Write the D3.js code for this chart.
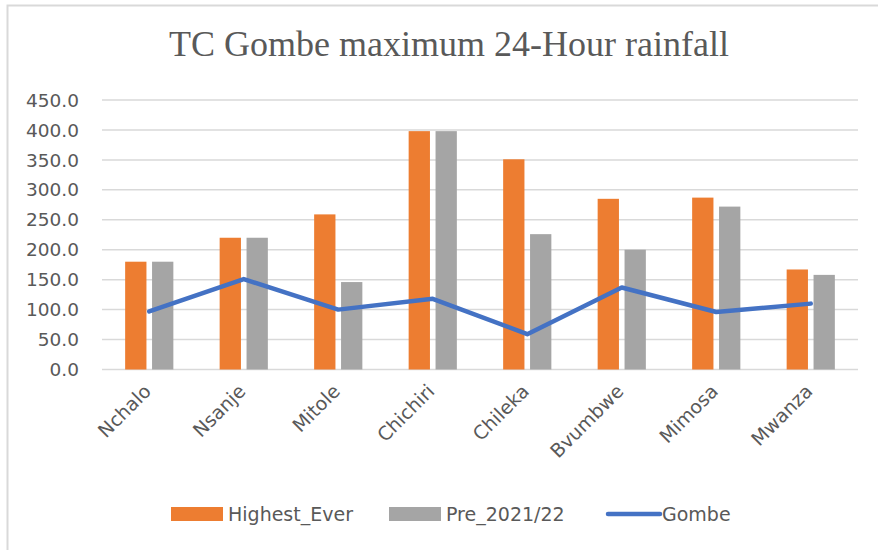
<!DOCTYPE html>
<html>
<head>
<meta charset="utf-8">
<script src="https://cdn.jsdelivr.net/npm/d3@7/dist/d3.min.js"></script>
<style>
  body { margin: 0; background: #fff; }
  svg text { fill: #595959; }
</style>
</head>
<body>
<div id="chart"></div>
<script>
'use strict';

var stations = ['Nchalo', 'Nsanje', 'Mitole', 'Chichiri', 'Chileka', 'Bvumbwe', 'Mimosa', 'Mwanza']
var highestEver = [180, 220, 259, 398, 351, 285, 287, 167]
var pre2021 = [180, 220, 146, 398, 226, 200, 272, 158]
var gombe = [97, 151, 100, 118, 59, 137, 96, 110]
var yTicks = [0, 50, 100, 150, 200, 250, 300, 350, 400, 450]
var seriesNames = ['Highest_Ever', 'Pre_2021/22', 'Gombe']

var W = 878, H = 550
var margin = {top: 100, right: 20, bottom: 180, left: 102}
var width = 858 - margin.left
var height = 369.5 - margin.top

var svg = d3.select('#chart').append('svg')
    .attr('width', W)
    .attr('height', H)

// chart frame
svg.append('rect')
  .attr('x', 7.5).attr('y', 5.5)
  .attr('width', W + 10).attr('height', H + 10)
  .style('fill', 'none')
  .style('stroke', '#d9d9d9')
  .style('stroke-width', 2)

svg.append('text')
  .attr('x', 449)
  .attr('y', 56)
  .attr('text-anchor', 'middle')
  .style('font-family', '"Liberation Serif", serif')
  .style('font-size', '36px')
  .text('TC Gombe maximum 24-Hour rainfall')

var g = svg.append('g')
  .attr('transform', 'translate(' + margin.left + ',' + margin.top + ')')

var x = d3.scaleBand()
  .domain(stations)
  .range([0, width])

var y = d3.scaleLinear()
  .domain([0, 450])
  .range([height, 0])

var barW = 21.3, gap = 5.6

// gridlines
g.selectAll('line.grid')
    .data(yTicks)
  .enter().append('line')
    .attr('class', 'grid')
    .attr('x1', 0)
    .attr('x2', width)
    .attr('y1', function(d){ return y(d) })
    .attr('y2', function(d){ return y(d) })
    .style('stroke', '#d9d9d9')
    .style('stroke-width', 1.5)

// y labels
g.selectAll('text.ylab')
    .data(yTicks)
  .enter().append('text')
    .attr('class', 'ylab')
    .attr('x', -23)
    .attr('y', function(d){ return y(d) })
    .attr('dy', '0.36em')
    .attr('text-anchor', 'end')
    .style('font-family', '"DejaVu Sans", sans-serif')
    .style('font-size', '18.5px')
    .text(function(d){ return d.toFixed(1) })

// bars
var cx = function(i){ return x(stations[i]) + x.bandwidth() / 2 }

g.selectAll('rect.hi')
    .data(highestEver)
  .enter().append('rect')
    .attr('class', 'hi')
    .attr('x', function(d, i){ return cx(i) - gap / 2 - barW })
    .attr('y', function(d){ return y(d) })
    .attr('width', barW)
    .attr('height', function(d){ return height - y(d) })
    .style('fill', '#ed7d31')

g.selectAll('rect.pre')
    .data(pre2021)
  .enter().append('rect')
    .attr('class', 'pre')
    .attr('x', function(d, i){ return cx(i) + gap / 2 })
    .attr('y', function(d){ return y(d) })
    .attr('width', barW)
    .attr('height', function(d){ return height - y(d) })
    .style('fill', '#a5a5a5')

// Gombe line
var line = d3.line()
  .x(function(d, i){ return cx(i) })
  .y(function(d){ return y(d) })

g.append('path')
  .datum(gombe)
  .attr('d', line)
  .style('fill', 'none')
  .style('stroke', '#4472c4')
  .style('stroke-width', 4.5)
  .style('stroke-linecap', 'round')
  .style('stroke-linejoin', 'round')

// category labels
g.selectAll('text.xlab')
    .data(stations)
  .enter().append('text')
    .attr('class', 'xlab')
    .attr('text-anchor', 'end')
    .attr('transform', function(d, i){
      return 'translate(' + (cx(i) + 3) + ',' + (height + 23) + ') rotate(-45)'
    })
    .style('font-family', '"DejaVu Sans", sans-serif')
    .style('font-size', '19px')
    .text(function(d){ return d })

// legend
var legend = svg.append('g')
var legX = [171, 389, 606]
seriesNames.forEach(function(name, i){
  var lg = legend.append('g').attr('transform', 'translate(' + legX[i] + ',514)')
  if (i < 2) {
    lg.append('rect')
      .attr('x', 0).attr('y', -7)
      .attr('width', 52).attr('height', 14)
      .style('fill', i === 0 ? '#ed7d31' : '#a5a5a5')
  } else {
    lg.append('line')
      .attr('x1', 2).attr('x2', 54)
      .attr('y1', 0).attr('y2', 0)
      .style('stroke', '#4472c4')
      .style('stroke-width', 4.5)
      .style('stroke-linecap', 'round')
  }
  lg.append('text')
    .attr('x', i < 2 ? 57 : 56)
    .attr('y', 0)
    .attr('dy', '0.36em')
    .style('font-family', '"DejaVu Sans", sans-serif')
    .style('font-size', '19px')
    .text(name)
})
</script>
</body>
</html>
